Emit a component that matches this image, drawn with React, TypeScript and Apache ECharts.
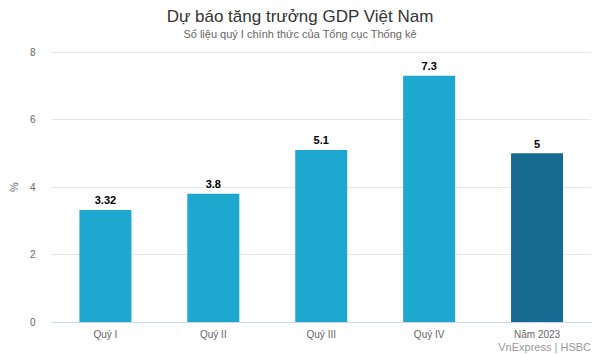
import React, { useEffect, useRef } from "react";
import * as echarts from "echarts";

const categories = ["Quý I", "Quý II", "Quý III", "Quý IV", "Năm 2023"];
const values = [3.32, 3.8, 5.1, 7.3, 5];
const barColors = ["#1ea8cf", "#1ea8cf", "#1ea8cf", "#1ea8cf", "#176b92"];
const yTicks = { min: 0, max: 8, interval: 2 };

export default function App() {
  const ref = useRef<HTMLDivElement>(null);
  useEffect(() => {
    if (!ref.current) return;
    const chart = echarts.init(ref.current, null, { renderer: "svg" });
    chart.setOption({
      animation: false,
      backgroundColor: "#ffffff",
      textStyle: { fontFamily: "Liberation Sans, Arial, sans-serif" },
      title: {
        text: "Dự báo tăng trưởng GDP Việt Nam",
        subtext: "Số liệu quý I chính thức của Tổng cục Thống kê",
        left: "center",
        top: 3,
        itemGap: 3,
        textStyle: { fontSize: 17, fontWeight: "normal", color: "#333333" },
        subtextStyle: { fontSize: 11, color: "#666666" },
      },
      graphic: [
        {
          type: "text",
          right: 9,
          bottom: 2,
          style: { text: "VnExpress | HSBC", fontSize: 11, fill: "#999999", fontFamily: "Liberation Sans, Arial, sans-serif" },
        },
      ],
      grid: { left: 47, right: 9, top: 52, bottom: 32 },
      xAxis: {
        type: "category",
        data: categories,
        axisLine: { lineStyle: { color: "#ccd6eb" } },
        axisTick: { show: false },
        axisLabel: { color: "#666666", fontSize: 10, margin: 7 },
      },
      yAxis: {
        type: "value",
        min: yTicks.min,
        max: yTicks.max,
        interval: yTicks.interval,
        name: "%",
        nameLocation: "middle",
        nameGap: 31,
        nameTextStyle: { color: "#666666", fontSize: 11 },
        axisLabel: { color: "#666666", fontSize: 10, margin: 16 },
        splitLine: { lineStyle: { color: "#e6e6e6" } },
        axisLine: { show: false },
        axisTick: { show: false },
      },
      series: [
        {
          type: "bar",
          barWidth: 52,
          data: values.map((v, i) => ({ value: v, itemStyle: { color: barColors[i] } })),
          label: {
            show: true,
            position: "top",
            color: "#000000",
            fontSize: 11,
            fontWeight: "bold",
            distance: 4,
          },
        },
      ],
    });
    return () => chart.dispose();
  }, []);
  return (
    <div
      ref={ref}
      style={{ position: "absolute", left: 0, top: 0, width: 600, height: 354 }}
    />
  );
}
